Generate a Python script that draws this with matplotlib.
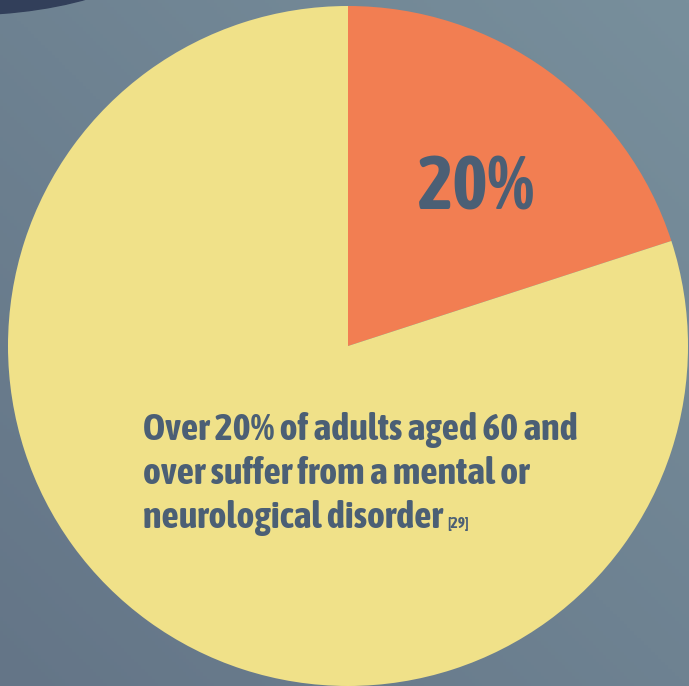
import numpy as np
import matplotlib
matplotlib.use("Agg")
import matplotlib.pyplot as plt
from matplotlib.patches import Ellipse
from matplotlib import font_manager

# Share of adults aged 60+ with a mental or neurological disorder
labels = ["Mental or neurological disorder", "Other"]
shares = [20, 80]
slice_colors = ["#f27e52", "#f0e189"]
headline = "20%"
body_lines = ["Over 20% of adults aged 60 and",
              "over suffer from a mental or",
              "neurological disorder"]
citation = "[29]"

W, H = 689, 686


def Y(y):
    # top-down pixel coordinate to axes coordinate
    return H - y


def weight_num(w):
    if isinstance(w, (int, float)):
        return w
    return {"bold": 700, "heavy": 800, "black": 900, "extra bold": 800,
            "semibold": 600, "demibold": 600}.get(str(w).lower(), 400)


# prefer a narrow / condensed sans that comes with an upright bold face
bold_narrow = sorted({f.name for f in font_manager.fontManager.ttflist
                      if ("Narrow" in f.name or "Condensed" in f.name
                          or f.stretch in ("condensed", "semi-condensed"))
                      and weight_num(f.weight) >= 600
                      and f.style == "normal"})
font = bold_narrow[:1] + ["Liberation Sans", "DejaVu Sans"]

fig = plt.figure(figsize=(W / 100, H / 100), dpi=100)
ax = fig.add_axes([0, 0, 1, 1])

# diagonal background gradient, darker at bottom-left
yy, xx = np.mgrid[0:1:200j, 0:1:200j]
t = (xx + yy) / 2.0
c0 = np.array([0x64, 0x75, 0x87]) / 255
c1 = np.array([0x78, 0x8f, 0x9c]) / 255
grad = c0[None, None, :] * (1 - t[..., None]) + c1[None, None, :] * t[..., None]
ax.imshow(grad, extent=[0, W, 0, H], origin="lower", zorder=0, aspect="auto")

# dark shape peeking in at the top-left corner
ax.add_patch(Ellipse((-40, Y(-60)), 410, 150, color="#323f5a", zorder=1))

ax.pie(shares, colors=slice_colors, startangle=90, counterclock=False,
       center=(348, Y(346)), radius=340, frame=True,
       wedgeprops=dict(linewidth=0))
ax.set_xlim(0, W)
ax.set_ylim(0, H)
ax.set_aspect("equal")
ax.axis("off")

text_color = "#4b5f75"
style = dict(family=font, fontweight="bold", fontstyle="normal",
             color=text_color, ha="left", va="baseline", zorder=5)
fig.canvas.draw()
renderer = fig.canvas.get_renderer()


def fitted(x, y, s, width, size):
    txt = ax.text(x, Y(y), s, fontsize=size, **style)
    w = txt.get_window_extent(renderer).width
    txt.set_fontsize(size * width / w)
    return txt


fitted(418, 210, headline, 117, 54)
t1 = fitted(143, 440, body_lines[0], 434, 27)
body_size = t1.get_fontsize()
last = t1
for i, line in enumerate(body_lines[1:], start=1):
    last = ax.text(143, Y(440 + 44 * i), line, fontsize=body_size, **style)
end_x = last.get_window_extent(renderer).x1
ax.text(end_x + 4, Y(528), citation, fontsize=11, **style)

fig.savefig("out.png", dpi=100)
